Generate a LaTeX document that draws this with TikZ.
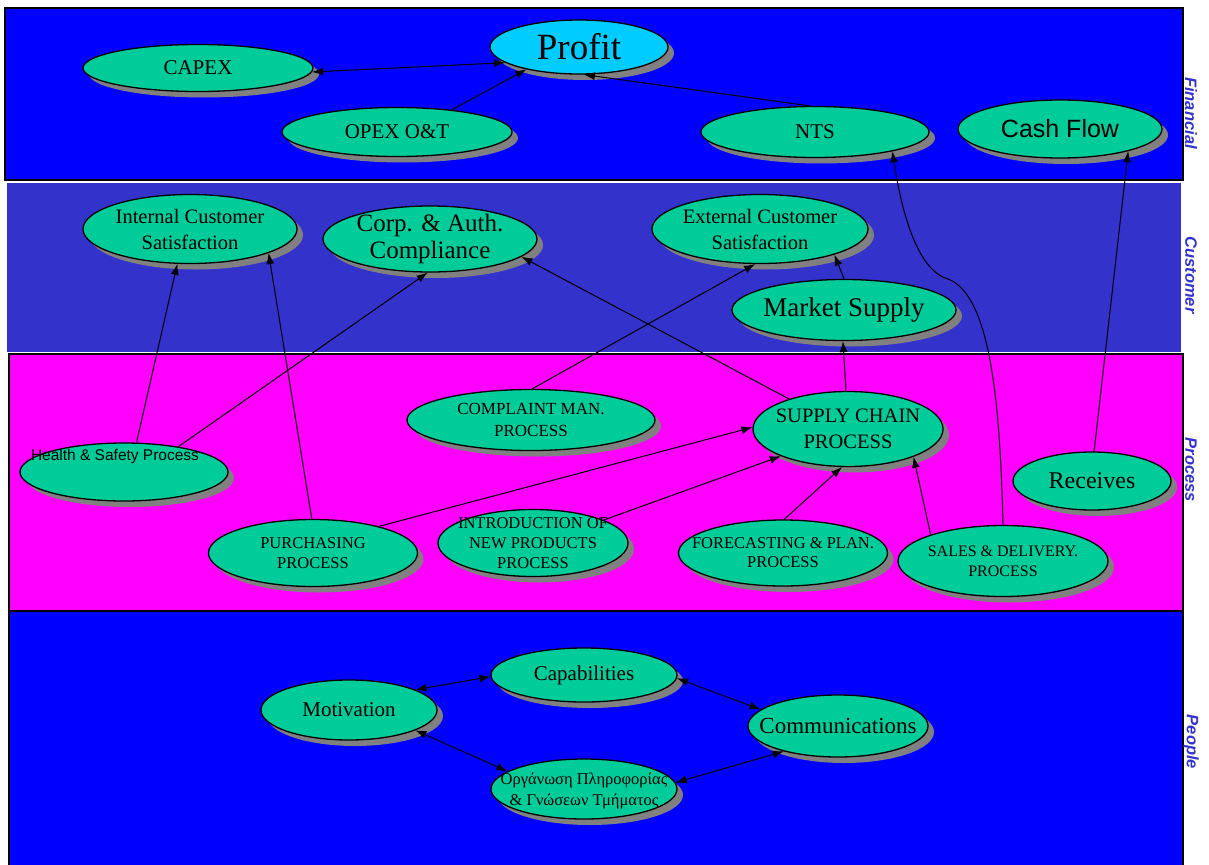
\documentclass[tikz,border=0pt]{standalone}
\usepackage{fontspec}
\setmainfont{Liberation Serif}
\newfontfamily\arialfont{Liberation Sans}
\usepackage{tikz}
\usetikzlibrary{arrows.meta,shapes.geometric,shadows}
\definecolor{finblue}{RGB}{0,0,255}
\definecolor{custblue}{RGB}{51,51,204}
\definecolor{procpink}{RGB}{255,0,255}
\definecolor{ellgreen}{RGB}{0,204,153}
\definecolor{profitcyan}{RGB}{0,204,255}
\definecolor{shadowgray}{RGB}{128,128,128}
\newcommand{\fs}[2]{\fontsize{#1}{#2}\selectfont}

\begin{document}
\begin{tikzpicture}[x=1pt,y=-1pt,
  ell/.style={ellipse,draw=black,line width=1.3pt,fill=ellgreen,inner sep=0pt,
    general shadow={fill=shadowgray,shadow xshift=6pt,shadow yshift=-6pt}},
  txt/.style={align=center,inner sep=0pt},
  arr/.style={-{Latex[length=11pt,width=8pt]},line width=1pt},
  darr/.style={{Latex[length=11pt,width=8pt]}-{Latex[length=11pt,width=8pt]},line width=1pt},
  side/.style={rotate=-90,text=custblue,font=\arialfont\bfseries\itshape\fs{16.5}{19}}]
  \useasboundingbox (0,0) rectangle (1209,864);
  % Bands
  \filldraw[fill=finblue,draw=black,line width=1.5pt] (5,8) rectangle (1183,180);
  \filldraw[fill=custblue,draw=white,line width=1pt] (6,182) rectangle (1181,352);
  \filldraw[fill=procpink,draw=black,line width=1.5pt] (9,354) rectangle (1183,611);
  \filldraw[fill=finblue,draw=black,line width=1.5pt] (9,611) rectangle (1183,880);
  \node[side] (finlab) at (1191,113) {Financial};
  \node[side] (custlab) at (1191,275) {Customer};
  \node[side] (proclab) at (1191,470) {Process};
  \node[side] (peoplab) at (1191,742) {People};
  % Financial
  \node[ell,minimum width=230,minimum height=47,label={[txt,font=\fs{21}{25}]center:CAPEX}] (capex) at (198,68) {};
  \node[ell,minimum width=230,minimum height=49,label={[txt,font=\fs{21}{25}]center:OPEX O\&T}] (opex) at (397,132) {};
  \node[ell,fill=profitcyan,minimum width=178,minimum height=54,label={[txt,font=\fs{37}{40}]center:Profit}] (profit) at (579,47) {};
  \node[ell,minimum width=228,minimum height=51,label={[txt,font=\fs{21}{25}]center:NTS}] (nts) at (815,132) {};
  \node[ell,minimum width=204,minimum height=58,label={[txt,font=\arialfont\fs{25}{28}]center:Cash Flow}] (cash) at (1060,129) {};
  % Customer
  \node[ell,minimum width=214,minimum height=69,label={[txt,font=\fs{20.5}{26}]center:{Internal Customer\\Satisfaction}}] (ics) at (190,229) {};
  \node[ell,minimum width=214,minimum height=66,label={[txt,font=\fs{25}{27}]center:{Corp. \& Auth.\\Compliance}}] (corp) at (430,239) {};
  \node[ell,minimum width=216,minimum height=69,label={[txt,font=\fs{20.5}{26}]center:{External Customer\\Satisfaction}}] (ecs) at (760,229) {};
  \node[ell,minimum width=224,minimum height=61,label={[txt,font=\fs{27}{30}]center:Market Supply}] (market) at (844,310) {};
  % Process
  \node[ell,minimum width=248,minimum height=61,label={[txt,font=\fs{17}{22}]center:{COMPLAINT MAN.\\PROCESS}}] (complaint) at (531,420) {};
  \node[ell,minimum width=190,minimum height=75,label={[txt,font=\fs{20.5}{26}]center:{SUPPLY CHAIN\\PROCESS}}] (supply) at (848,429) {};
  \node[ell,minimum width=208,minimum height=58,label={[txt,font=\arialfont\fs{15.5}{18},xshift=-9pt,yshift=16pt]center:Health \& Safety Process}] (health) at (124,472) {};
  \node[ell,minimum width=158,minimum height=58,label={[txt,font=\fs{24}{27}]center:Receives}] (receives) at (1092,481) {};
  \node[ell,minimum width=209,minimum height=67,label={[txt,font=\fs{16.5}{20}]center:{PURCHASING\\PROCESS}}] (purch) at (313,553) {};
  \node[ell,minimum width=190,minimum height=67,label={[txt,font=\fs{16.5}{20}]center:{INTRODUCTION OF\\NEW PRODUCTS\\PROCESS}}] (intro) at (533,543) {};
  \node[ell,minimum width=209,minimum height=66,label={[txt,font=\fs{16.5}{19}]center:{FORECASTING \& PLAN.\\PROCESS}}] (forecast) at (783,553) {};
  \node[ell,minimum width=210,minimum height=71,label={[txt,font=\fs{16}{20}]center:{SALES \& DELIVERY.\\PROCESS}}] (sales) at (1003,561) {};
  % People
  \node[ell,minimum width=186,minimum height=54,label={[txt,font=\fs{21}{25}]center:Capabilities}] (capab) at (584,675) {};
  \node[ell,minimum width=176,minimum height=60,label={[txt,font=\fs{21}{25}]center:Motivation}] (motiv) at (349,710) {};
  \node[ell,minimum width=180,minimum height=62,label={[txt,font=\fs{23}{26}]center:Communications}] (comm) at (838,726) {};
  \node[ell,minimum width=186,minimum height=60,label={[txt,font=\fs{16.5}{21},yshift=-2pt]center:{Οργάνωση Πληροφορίας\\\& Γνώσεων Τμήματος}}] (greek) at (584,789) {};
  % Links
  \draw[darr] (capex.-2) -- (profit.192);
  \draw[arr] (opex.22) -- (profit.203);
  \draw[arr] (nts.101) -- (profit.-80);
  \draw[arr] (sales.90) .. controls (1000,400) and (990,295) .. (948,279)
    .. controls (925,273) and (905,235) .. (nts.-14);
  \draw[arr] (receives.86) -- (cash.-18);
  \draw[arr] (health.67) -- (ics.250);
  \draw[arr] (health.25) -- (corp.-94);
  \draw[arr] (purch.92) -- (ics.-17);
  \draw[arr] (purch.22) -- (supply.179);
  \draw[arr] (supply.153) -- (corp.-11);
  \draw[arr] (complaint.88) -- (ecs.-98);
  \draw[arr] (market.90) -- (ecs.-19);
  \draw[arr] (supply.93) -- (market.-92);
  \draw[arr] (intro.18) -- (supply.202);
  \draw[arr] (forecast.88) -- (supply.-99);
  \draw[arr] (sales.160) -- (supply.-23);
  \draw[darr] (motiv.17) -- (capab.181);
  \draw[darr] (capab.-2) -- (comm.168);
  \draw[darr] (motiv.-17) -- (greek.167);
  \draw[darr] (greek.4) -- (comm.205);
\end{tikzpicture}
\end{document}
